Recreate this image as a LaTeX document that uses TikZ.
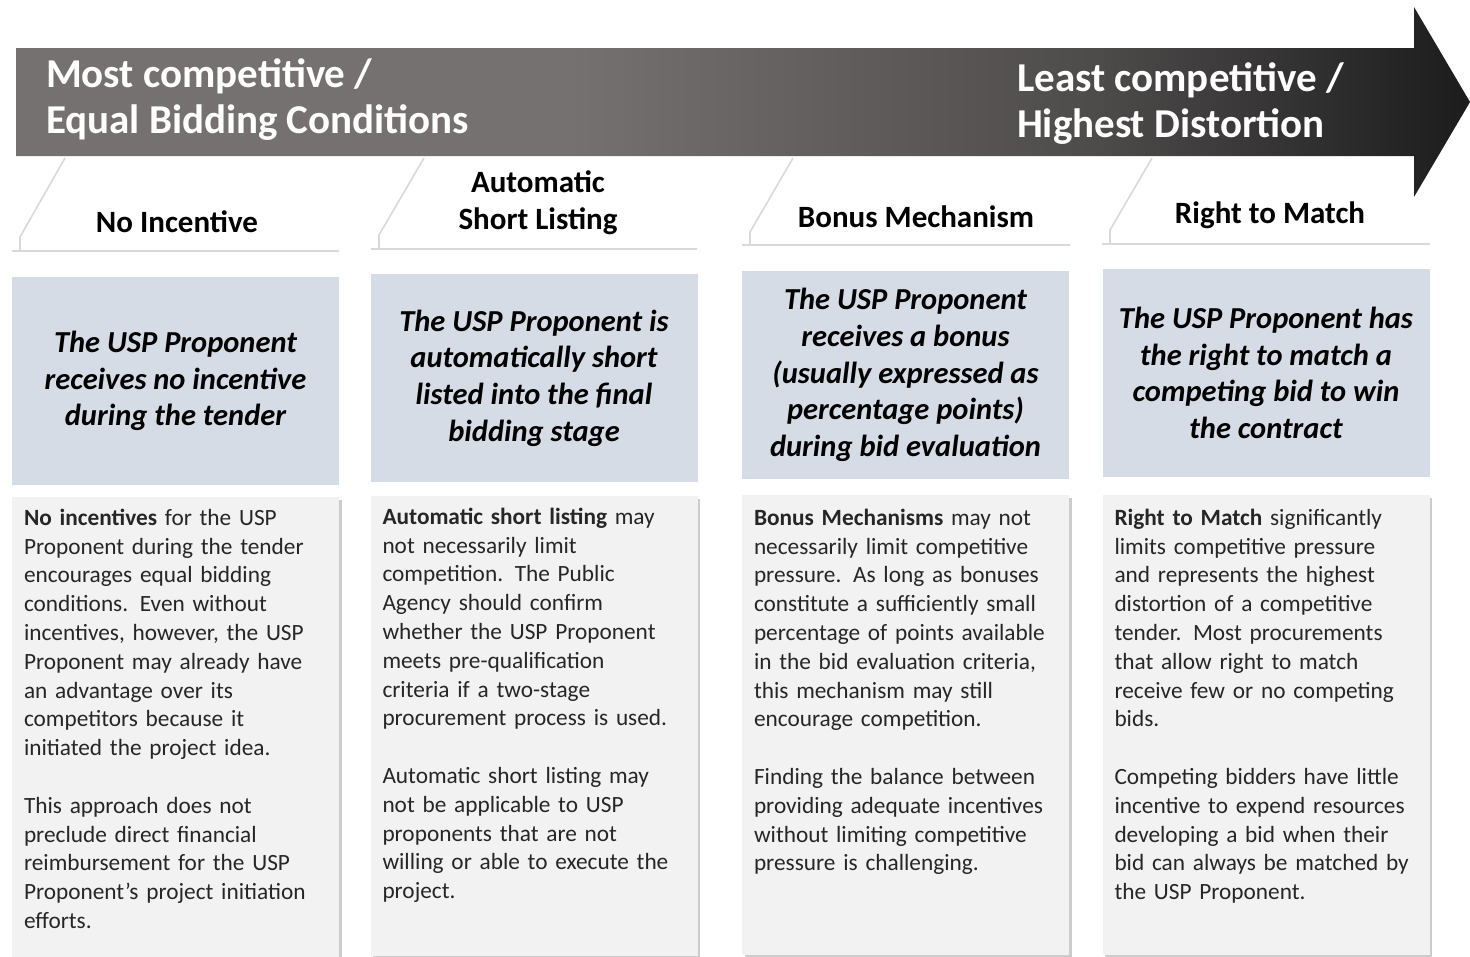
\documentclass[tikz,border=0pt]{standalone}
\usepackage{fontspec}
\setmainfont{Carlito}
\usepackage{tikz}
\usetikzlibrary{positioning,calc,shadows}

\definecolor{arrowgray}{RGB}{118,113,113}
\definecolor{arrowmid}{RGB}{78,75,75}
\definecolor{arrowdark}{RGB}{28,28,28}
\definecolor{tabline}{RGB}{217,217,217}
\definecolor{boxblue}{RGB}{214,220,229}
\definecolor{boxgray}{RGB}{242,242,242}

\pgfdeclarehorizontalshading{arrowshade}{100bp}{color(0bp)=(arrowgray); color(25bp)=(arrowgray); color(44bp)=(arrowgray); color(62bp)=(arrowmid); color(75bp)=(arrowdark); color(100bp)=(arrowdark)}

\begin{document}
\begin{tikzpicture}[x=1pt,y=-1pt]
\tikzstyle{tab line} = [draw=tabline, line width=1.6pt]
\tikzstyle{head} = [font=\bfseries\fontsize{31}{37}\selectfont, align=center]
\tikzstyle{claim} = [fill=boxblue, minimum width=327pt, minimum height=208pt, align=center,
    font=\bfseries\itshape\fontsize{30.5}{36.6}\selectfont]
\tikzstyle{card} = [fill=boxgray, minimum width=327pt, minimum height=460pt,
    drop shadow={shadow xshift=2.5pt, shadow yshift=-2.5pt, opacity=0.4}]
\tikzstyle{card text} = [inner sep=0pt, text width=318pt, align=left, text=black!85,
    font=\fontsize{23.3}{28.8}\selectfont]
\tikzstyle{banner} = [text=white, anchor=west, align=left, font=\bfseries\fontsize{41}{46}\selectfont]

\useasboundingbox (0,0) rectangle (1470,956);

% the arrow
\shade[shading=arrowshade] (16,48) -- (1414,48) -- (1414,7) -- (1470,102)
    -- (1414,197) -- (1414,156) -- (16,156) -- cycle;
\node[banner](most) at (42.5,100) {Most competitive /\\Equal Bidding Conditions};
\node[banner](least) at (1013.5,104) {Least competitive /\\Highest Distortion};

% tabs
\draw[tab line] (65,158) -- (20,237) -- (20,251);
\draw[tab line] (12,251) -- (339,251);
\draw[tab line] (424,158) -- (379,235) -- (379,249);
\draw[tab line] (371,249) -- (697,249);
\draw[tab line] (793,158) -- (750,232) -- (750,245);
\draw[tab line] (742,245) -- (1070,245);
\draw[tab line] (1152,158) -- (1110,230) -- (1110,244);
\draw[tab line] (1102,244) -- (1430,244);

\node[head](hdr1) at (177,222) {No Incentive};
\node[head](hdr2) at (538,203) {Automatic\\Short Listing};
\node[head](hdr3) at (916,217) {Bonus Mechanism};
\node[head](hdr4) at (1270,215) {Right to Match};

% what the proponent gets
\node[claim](claim1) at (175.5,381) {The USP Proponent\\receives no incentive\\during the tender};
\node[claim](claim2) at (534,378) {The USP Proponent is\\automatically short\\listed into the final\\bidding stage};
\node[claim](claim3) at (905.5,375) {The USP Proponent\\receives a bonus\\(usually expressed as\\percentage points)\\during bid evaluation};
\node[claim](claim4) at (1266,373) {The USP Proponent has\\the right to match a\\competing bid to win\\the contract};

% notes
\node[card](card1) at (175.5,727) {};
\node[card](card2) at (534,726) {};
\node[card](card3) at (905.5,725) {};
\node[card](card4) at (1266,725) {};

\node[card text, below right=12pt and 12pt of card1.north west](note1) {%
\textbf{No incentives} for the USP\\
Proponent during the tender\\
encourages equal bidding\\
conditions. Even without\\
incentives, however, the USP\\
Proponent may already have\\
an advantage over its\\
competitors because it\\
initiated the project idea.\\[28.8pt]
This approach does not\\
preclude direct financial\\
reimbursement for the USP\\
Proponent's project initiation\\
efforts.};
\node[card text, below right=12pt and 12pt of card2.north west](note2) {%
\textbf{Automatic short listing} may\\
not necessarily limit\\
competition. The Public\\
Agency should confirm\\
whether the USP Proponent\\
meets pre-qualification\\
criteria if a two-stage\\
procurement process is used.\\[28.8pt]
Automatic short listing may\\
not be applicable to USP\\
proponents that are not\\
willing or able to execute the\\
project.};
\node[card text, below right=14pt and 12pt of card3.north west](note3) {%
\textbf{Bonus Mechanisms} may not\\
necessarily limit competitive\\
pressure. As long as bonuses\\
constitute a sufficiently small\\
percentage of points available\\
in the bid evaluation criteria,\\
this mechanism may still\\
encourage competition.\\[28.8pt]
Finding the balance between\\
providing adequate incentives\\
without limiting competitive\\
pressure is challenging.};
\node[card text, below right=14pt and 12pt of card4.north west](note4) {%
\textbf{Right to Match} significantly\\
limits competitive pressure\\
and represents the highest\\
distortion of a competitive\\
tender. Most procurements\\
that allow right to match\\
receive few or no competing\\
bids.\\[28.8pt]
Competing bidders have little\\
incentive to expend resources\\
developing a bid when their\\
bid can always be matched by\\
the USP Proponent.};
\end{tikzpicture}
\end{document}
